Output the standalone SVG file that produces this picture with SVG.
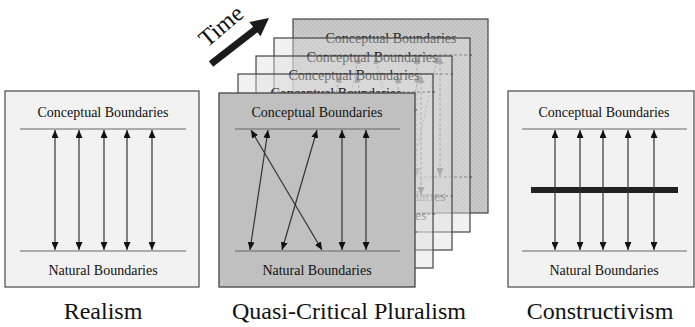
<svg xmlns="http://www.w3.org/2000/svg" width="695" height="327" viewBox="0 0 695 327">
<style>
text{font-family:"Liberation Serif","Times New Roman",serif;fill:#111}
.lbl{font-size:14px;text-anchor:middle}
.cap{font-size:24px;text-anchor:middle}
.bnd{stroke:#666;stroke-width:1.2}
.arr{stroke:#333;stroke-width:1.2;fill:none;marker-start:url(#ah);marker-end:url(#ah)}
.box{fill:#f2f2f2;stroke:#555;stroke-width:1.3}
.front{fill:#c0c0c0;stroke:#444;stroke-width:1.3}
.back{fill:#dedede;fill-opacity:0.42;stroke:#444;stroke-width:1.2}
.back4{fill:url(#chk);fill-opacity:0.95;stroke:#444;stroke-width:1.2}
.bl{stroke:#444;stroke-width:1;stroke-dasharray:3 2}
.barr{stroke:#444;stroke-width:1;fill:none;stroke-dasharray:3 2;marker-start:url(#ahg);marker-end:url(#ahg)}
.btxt{font-size:14px;text-anchor:middle;fill:#222}
</style>
<defs>
<marker id="ah" viewBox="0 0 8 7" refX="8" refY="3.5" markerWidth="8" markerHeight="7" markerUnits="userSpaceOnUse" orient="auto-start-reverse"><path d="M0,0L8,3.5L0,7z" fill="#111"/></marker>
<marker id="ahg" viewBox="0 0 8 7" refX="8" refY="3.5" markerWidth="8" markerHeight="7" markerUnits="userSpaceOnUse" orient="auto-start-reverse"><path d="M0,0L8,3.5L0,7z" fill="#444"/></marker>
<pattern id="chk" width="4" height="4" patternUnits="userSpaceOnUse"><rect width="4" height="4" fill="#c8c8c8"/><rect width="2" height="2" fill="#bdbdbd"/><rect x="2" y="2" width="2" height="2" fill="#bdbdbd"/></pattern>
<g id="backContent">
<text class="btxt" x="98" y="24">Conceptual Boundaries</text>
<line class="bl" x1="16" y1="36" x2="181" y2="36"/>
<line class="bl" x1="16" y1="158" x2="181" y2="158"/>
<text class="btxt" x="98" y="182">Natural Boundaries</text>
<line class="barr" x1="40" y1="157" x2="66" y2="37"/>
<line class="barr" x1="110" y1="157" x2="82" y2="37"/>
<line class="barr" x1="124" y1="157" x2="124" y2="37"/>
<line class="barr" x1="118" y1="157" x2="145" y2="37"/>
<line class="barr" x1="147" y1="157" x2="147" y2="37"/>
</g>
</defs>
<rect width="695" height="327" fill="#ffffff"/>

<g id="time">
<line x1="211" y1="64" x2="256" y2="29" stroke="#1a1a1a" stroke-width="7"/>
<polygon points="269,18 260.5,36.3 249.3,22.1" fill="#1a1a1a"/>
<text x="226" y="32" font-size="24" text-anchor="middle" transform="rotate(-40 226 32)">Time</text>
</g>

<g id="layer4">
<rect class="back4" x="293" y="19" width="195" height="194"/>
<use href="#backContent" transform="translate(293 19)"/>
</g>
<g id="layer3">
<rect class="back" x="274" y="38" width="196" height="194"/>
<use href="#backContent" transform="translate(274 38)"/>
</g>
<g id="layer2">
<rect class="back" x="256" y="56" width="196" height="194"/>
<use href="#backContent" transform="translate(256 56)"/>
</g>
<g id="layer1">
<rect class="back" x="238" y="74" width="195" height="194"/>
<use href="#backContent" transform="translate(238 74)"/>
</g>

<g id="realism">
<rect class="box" x="5" y="91" width="194" height="196"/>
<text class="lbl" x="103" y="117">Conceptual Boundaries</text>
<line class="bnd" x1="20" y1="129" x2="186" y2="129"/>
<line class="bnd" x1="20" y1="251" x2="186" y2="251"/>
<text class="lbl" x="103" y="275">Natural Boundaries</text>
</g>

<g id="pluralism">
<rect class="front" x="219" y="93" width="196" height="194"/>
<text class="lbl" x="317" y="117">Conceptual Boundaries</text>
<line class="bnd" x1="235" y1="129" x2="400" y2="129" stroke="#555"/>
<line class="bnd" x1="235" y1="251" x2="400" y2="251" stroke="#555"/>
<text class="lbl" x="317" y="275">Natural Boundaries</text>
</g>

<g id="constructivism">
<rect class="box" x="508" y="91" width="186" height="196"/>
<text class="lbl" x="604" y="117">Conceptual Boundaries</text>
<line class="bnd" x1="522" y1="129" x2="687" y2="129"/>
<line class="bnd" x1="522" y1="251" x2="687" y2="251"/>
<text class="lbl" x="604" y="275">Natural Boundaries</text>
<line x1="531" y1="190" x2="678" y2="190" stroke="#222" stroke-width="6"/>
</g>

<g id="connectors">
<line class="arr" x1="55" y1="130" x2="55" y2="250"/>
<line class="arr" x1="79" y1="130" x2="79" y2="250"/>
<line class="arr" x1="104" y1="130" x2="104" y2="250"/>
<line class="arr" x1="127" y1="130" x2="127" y2="250"/>
<line class="arr" x1="152" y1="130" x2="152" y2="250"/>

<line class="arr" x1="250" y1="250" x2="268" y2="130"/>
<line class="arr" x1="282" y1="250" x2="317" y2="130"/>
<line class="arr" x1="251" y1="130" x2="322" y2="250"/>
<line class="arr" x1="342" y1="130" x2="342" y2="250"/>
<line class="arr" x1="366" y1="130" x2="366" y2="250"/>

<line class="arr" x1="555" y1="130" x2="555" y2="250"/>
<line class="arr" x1="580" y1="130" x2="580" y2="250"/>
<line class="arr" x1="603" y1="130" x2="603" y2="250"/>
<line class="arr" x1="628" y1="130" x2="628" y2="250"/>
<line class="arr" x1="654" y1="130" x2="654" y2="250"/>
</g>

<g id="captions">
<text class="cap" x="103" y="319">Realism</text>
<text class="cap" x="349" y="319">Quasi-Critical Pluralism</text>
<text class="cap" x="600" y="319">Constructivism</text>
</g>
</svg>
